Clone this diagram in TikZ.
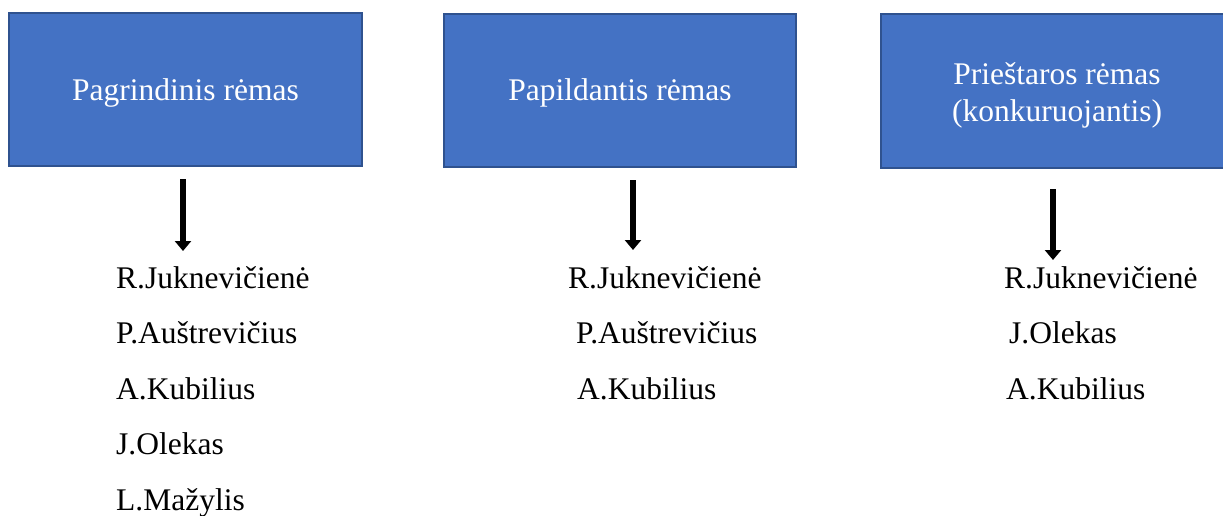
\documentclass[tikz,border=0pt]{standalone}
\usepackage{fontspec}
\setmainfont{Liberation Serif}
\usetikzlibrary{arrows.meta}
\definecolor{boxfill}{HTML}{4472C4}
\definecolor{boxline}{HTML}{2F528F}
\tikzset{
  frame/.style={draw=boxline, line width=2pt, fill=boxfill, text=white,
    inner sep=0pt, outer sep=0pt, align=center,
    font=\fontsize{31.5}{36.7}\selectfont},
  person/.style={anchor=base west, inner sep=0pt, text=black,
    font=\fontsize{31.5}{36}\selectfont},
  arr/.style={line width=5.5pt, -{Triangle[width=16pt,length=10pt]}}
}
\begin{document}
\begin{tikzpicture}[x=1pt,y=-1pt]
\fill[white] (0,0) rectangle (1223,515);
\useasboundingbox (0,0) rectangle (1223,515);
\begin{scope}
\clip (0,0) rectangle (1223,515);
\node[frame, minimum width=353pt, minimum height=153pt] (b1) at (185.5,89.5) {};
\node[frame, minimum width=352pt, minimum height=153pt] (b2) at (620,90.5) {};
\node[frame, minimum width=352pt, minimum height=154pt] (b3) at (1057,91) {};
\node[text=white, inner sep=0pt, font=\fontsize{31.5}{36.7}\selectfont, anchor=base] (b1t) at (185.5,100) {Pagrindinis rėmas};
\node[text=white, inner sep=0pt, font=\fontsize{31.5}{36.7}\selectfont, anchor=base] (b2t) at (620,100) {Papildantis rėmas};
\node[text=white, align=center, inner sep=0pt, font=\fontsize{31.5}{36.7}\selectfont, anchor=base] (b3t) at (1057,121) {Prieštaros rėmas\\(konkuruojantis)};
\end{scope}

\coordinate (a1t) at (183,179);
\coordinate (a1b) at (183,251);
\coordinate (a2t) at (633,180);
\coordinate (a2b) at (633,250);
\coordinate (a3t) at (1053,189);
\coordinate (a3b) at (1053,260);
\draw[arr] (a1t) -- (a1b);
\draw[arr] (a2t) -- (a2b);
\draw[arr] (a3t) -- (a3b);

\node[person] (n11) at (116,288) {R.Juknevičienė};
\node[person] (n12) at (116,343.5) {P.Auštrevičius};
\node[person] (n13) at (116,399) {A.Kubilius};
\node[person] (n14) at (116,454.5) {J.Olekas};
\node[person] (n15) at (116,510) {L.Mažylis};

\node[person] (n21) at (568,288) {R.Juknevičienė};
\node[person] (n22) at (576,343.5) {P.Auštrevičius};
\node[person] (n23) at (577,399) {A.Kubilius};

\node[person] (n31) at (1004,288) {R.Juknevičienė};
\node[person] (n32) at (1009,343.5) {J.Olekas};
\node[person] (n33) at (1006,399) {A.Kubilius};
\end{tikzpicture}
\end{document}
